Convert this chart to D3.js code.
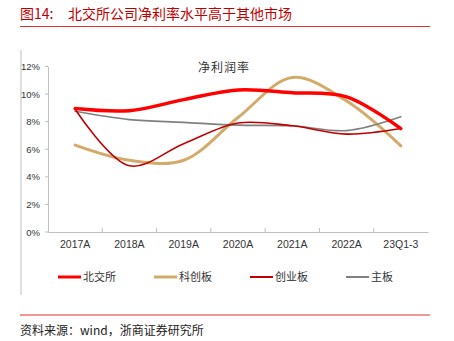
<!DOCTYPE html>
<html><head><meta charset="utf-8">
<script src="https://cdn.jsdelivr.net/npm/d3@7"></script>
<style>body{margin:0;background:#fff;}svg{display:block;}</style>
</head><body>
<svg id="c" width="454" height="341"></svg>
<script>
const categories = ["2017A","2018A","2019A","2020A","2021A","2022A","23Q1-3"];
const bjs = [8.95, 8.8, 9.6, 10.3, 10.1, 9.8, 7.5];      // 北交所
const kcb = [6.3, 5.2, 5.2, 8.3, 11.2, 9.5, 6.25];       // 科创板
const cyb = [8.9, 4.8, 6.4, 7.9, 7.7, 7.1, 7.5];         // 创业板
const zb  = [8.75, 8.15, 7.95, 7.75, 7.7, 7.35, 8.35];   // 主板
const yTicks = [0,2,4,6,8,10,12];
const seriesNames = ["北交所","科创板","创业板","主板"];

const series = [
  {name: seriesNames[0], values: bjs, color: "#FF0000", width: 3.5},
  {name: seriesNames[1], values: kcb, color: "#D4AA6A", width: 3},
  {name: seriesNames[2], values: cyb, color: "#C00000", width: 1.6},
  {name: seriesNames[3], values: zb,  color: "#808080", width: 1.6}
];

const svg = d3.select("#c");
const cjk = "'Noto Sans CJK SC', sans-serif";
const lat = "'Liberation Sans', Arial, sans-serif";

// Header
svg.append("text").attr("x",20).attr("y",19).attr("fill","#C00000")
  .style("font-family",cjk).style("font-size","14px").text("图14:");
svg.append("text").attr("x",68).attr("y",19).attr("fill","#C00000")
  .style("font-family",cjk).style("font-size","14px").text("北交所公司净利率水平高于其他市场");
svg.append("line").attr("x1",20).attr("x2",430).attr("y1",26.5).attr("y2",26.5)
  .attr("stroke","#E03030").attr("stroke-width",1);
svg.append("line").attr("x1",21).attr("x2",21).attr("y1",50).attr("y2",295)
  .attr("stroke","#BFBFBF").attr("stroke-width",1);

const x = d3.scaleBand().domain(categories).range([48,428]);
const y = d3.scaleLinear().domain([0,12]).range([232,66.5]);

// y axis
const ya = svg.append("g").attr("transform","translate(48,0)")
  .call(d3.axisLeft(y).tickValues(yTicks).tickFormat(d=>d+"%").tickSize(0).tickPadding(8));
ya.select(".domain").attr("stroke","#BFBFBF");
ya.selectAll("text").style("font-family",lat).style("font-size","9.5px").attr("fill","#333");

svg.append("g").selectAll("line").data(yTicks).join("line")
  .attr("x1",45).attr("x2",48).attr("y1",d=>y(d)).attr("y2",d=>y(d))
  .attr("stroke","#BFBFBF");

// x axis
const xa = svg.append("g").attr("transform","translate(0,232)")
  .call(d3.axisBottom(x).tickSize(0).tickPadding(9));
xa.select(".domain").attr("stroke","#BFBFBF");
xa.selectAll("text").style("font-family",lat).style("font-size","10.5px").attr("fill","#333");
svg.append("g").selectAll("line").data(categories.slice(1)).join("line")
  .attr("x1",d=>x(d)).attr("x2",d=>x(d)).attr("y1",232).attr("y2",228)
  .attr("stroke","#BFBFBF");

// chart title
svg.append("text").attr("x",224).attr("y",72).attr("text-anchor","middle")
  .style("font-family",cjk).style("font-size","12px").style("letter-spacing","1px")
  .attr("fill","#333").text("净利润率");

const line = d3.line()
  .x((d,i)=>x(categories[i])+x.bandwidth()/2)
  .y(d=>y(d))
  .curve(d3.curveCatmullRom.alpha(0.5));

const order = [1,3,2,0];
order.forEach(k=>{
  const s = series[k];
  svg.append("path").attr("d",line(s.values)).attr("fill","none")
    .attr("stroke",s.color).attr("stroke-width",s.width)
    .attr("stroke-linejoin","round").attr("stroke-linecap","round");
});

// legend
const legX = [58,154,250,346];
series.forEach((s,i)=>{
  svg.append("line").attr("x1",legX[i]).attr("x2",legX[i]+23).attr("y1",277).attr("y2",277)
    .attr("stroke",s.color).attr("stroke-width",s.width>2?3:2);
  svg.append("text").attr("x",legX[i]+25).attr("y",281)
    .style("font-family",cjk).style("font-size","11px").attr("fill","#333").text(s.name);
});

// footer
svg.append("line").attr("x1",20).attr("x2",430).attr("y1",315).attr("y2",315)
  .attr("stroke","#E03030").attr("stroke-width",1);
svg.append("text").attr("x",20).attr("y",335)
  .style("font-family",cjk).style("font-size","12px").attr("fill","#222").text("资料来源：wind，浙商证券研究所");
</script>
</body></html>
